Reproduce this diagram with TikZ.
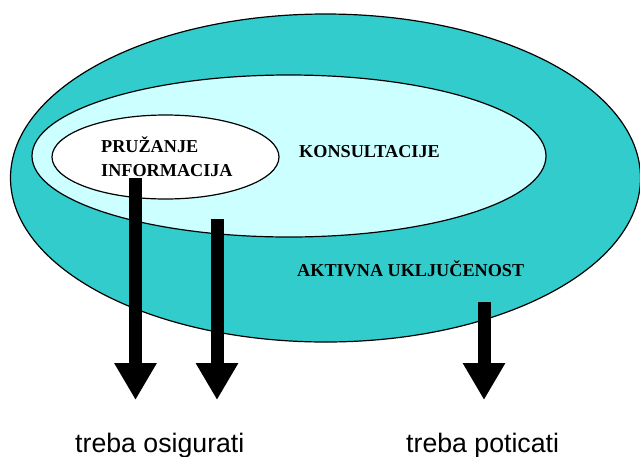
\documentclass[tikz,border=0pt]{standalone}
\usepackage{fontspec}
\setmainfont{Liberation Serif}
\setsansfont{Liberation Sans}
\usetikzlibrary{arrows.meta,shapes.geometric}
\definecolor{teal1}{HTML}{33CCCC}
\definecolor{cyan1}{HTML}{CCFFFF}
\tikzset{
  ring/.style={ellipse, draw=black, line width=1.2pt, inner sep=0pt},
  lbl/.style={anchor=base west, inner sep=0pt, font=\fontsize{18.2}{24}\selectfont\bfseries},
  bottomlbl/.style={anchor=base west, inner sep=0pt, font=\sffamily\fontsize{26.7}{30}\selectfont},
  bigarrow/.style={line width=13pt, -{Triangle[width=40pt,length=37pt]}}
}
\begin{document}
\begin{tikzpicture}[x=1pt,y=-1pt]
\useasboundingbox (0,0) rectangle (640,456);
\node[ring, fill=teal1, minimum width=630pt, minimum height=328pt] (outer) at (325.5,178) {};
\node[ring, fill=cyan1, minimum width=514pt, minimum height=162pt] (inner) at (289,156) {};
\node[ring, fill=white, minimum width=227pt, minimum height=84pt] (info) at (165.5,157) {};
\node[lbl] (t1) at (101,152) {PRUŽANJE};
\node[lbl] (t2) at (101,176) {INFORMACIJA};
\node[lbl] (t3) at (299,157) {KONSULTACIJE};
\node[lbl] (t4) at (297,276) {AKTIVNA UKLJUČENOST};
\node[bottomlbl] (b1) at (75,452) {treba osigurati};
\node[bottomlbl] (b2) at (406,452) {treba poticati};
\coordinate (s1) at (135.5,178);
\coordinate (e1) at (135.5,400);
\coordinate (s2) at (217,219);
\coordinate (e2) at (217,400);
\coordinate (s3) at (484,302);
\coordinate (e3) at (484,400);
\draw[bigarrow] (s1) -- (e1);
\draw[bigarrow] (s2) -- (e2);
\draw[bigarrow] (s3) -- (e3);
\end{tikzpicture}
\end{document}
